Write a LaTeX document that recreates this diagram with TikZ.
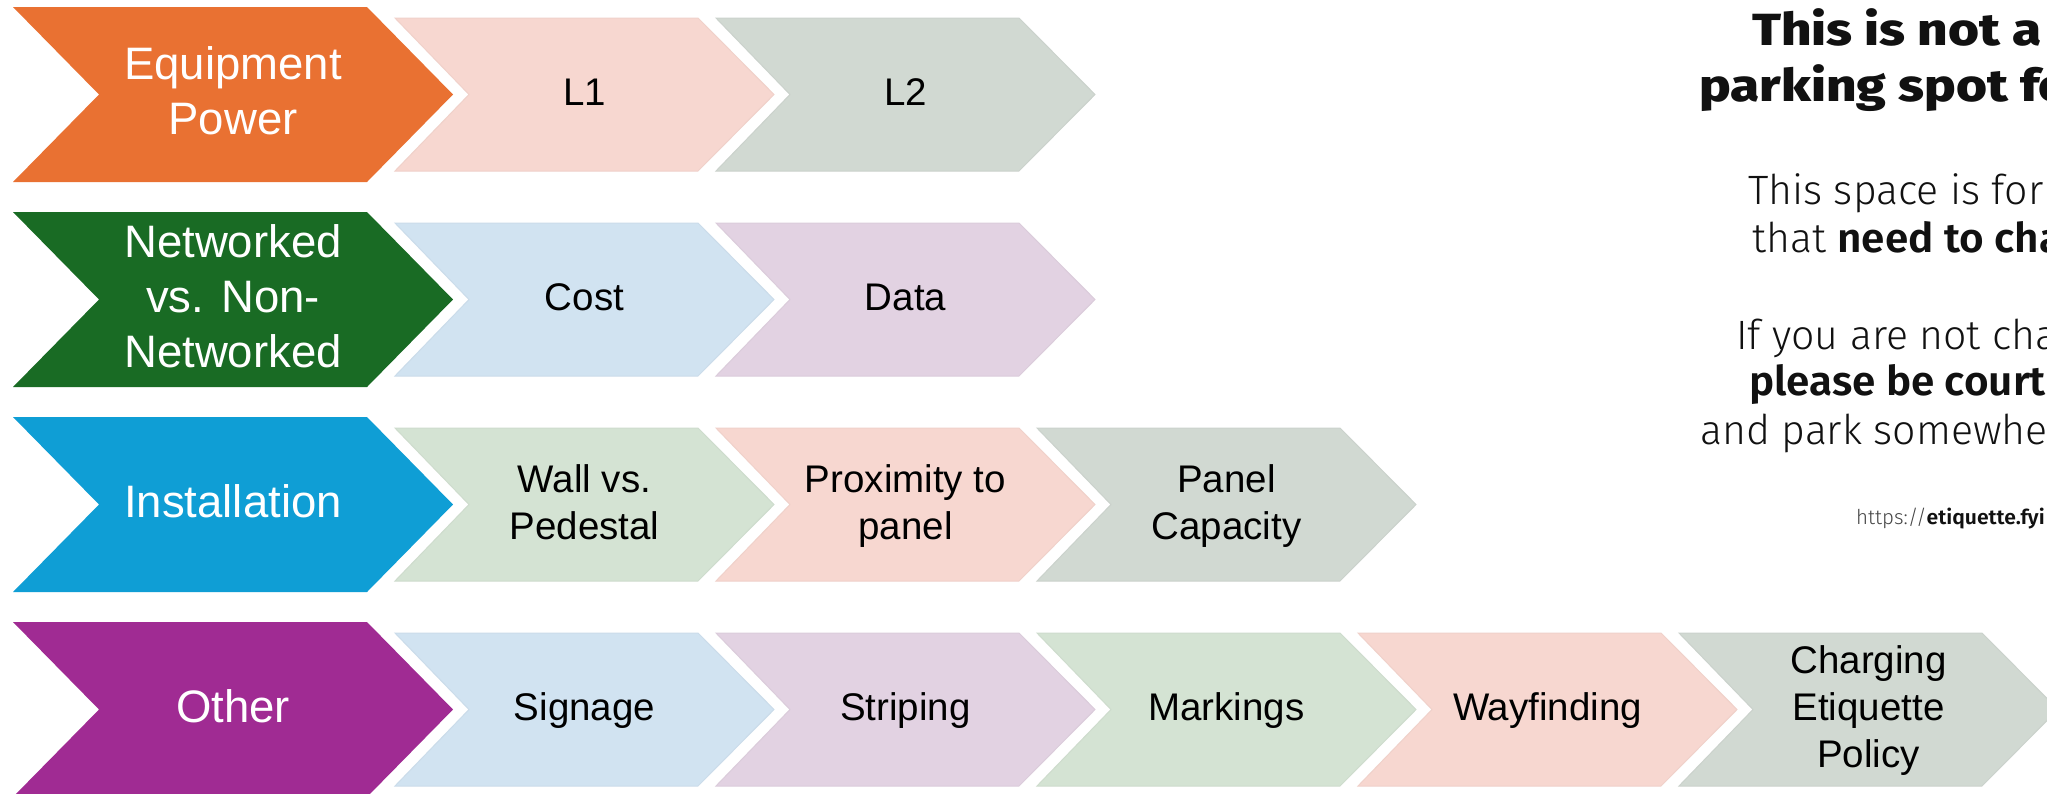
\documentclass[tikz,border=0pt]{standalone}
\usepackage{fontspec}
\setmainfont{Liberation Sans}
\newfontfamily\signlight{Fira Sans Light}
\newfontfamily\signsemi{Fira Sans SemiBold}[FakeStretch=1.03]
\newfontfamily\signheavy{Fira Sans ExtraBold}[FakeStretch=1.18]
\definecolor{cOrange}{HTML}{E97132}
\definecolor{cGreen}{HTML}{196B24}
\definecolor{cBlue}{HTML}{0F9ED5}
\definecolor{cPurple}{HTML}{A02B93}
\definecolor{lPink}{HTML}{F7D7D0}
\definecolor{lGrey}{HTML}{D1D9D2}
\definecolor{lBlue}{HTML}{D1E3F1}
\definecolor{lPurple}{HTML}{E2D2E2}
\definecolor{lGreen}{HTML}{D4E3D3}
\definecolor{signtext}{HTML}{111111}
\definecolor{urlgrey}{HTML}{444444}
\tikzset{
  mainlbl/.style={align=center, inner sep=0pt, text=white,
    font=\fontsize{45.5}{55}\selectfont},
  seclbl/.style={align=center, inner sep=0pt, text=black,
    font=\fontsize{38.5}{47}\selectfont},
  signline/.style={anchor=base west, inner sep=0pt, text=signtext},
}
\newcommand{\MainChev}[4]{%
  \pgfmathsetmacro{\chT}{7+205*#1}%
  \fill[#2] (13,\chT) -- ++(354,0) -- ++(86,87.5) -- ++(-86,87.5)
     -- ++(-354,0) -- ++(86,-87.5) -- cycle;
  \node[mainlbl] (#3) at (233,\chT+89) {\strut #4\strut};
}
\newcommand{\SecChev}[5]{%
  \pgfmathsetmacro{\chT}{18+205*#1}%
  \pgfmathsetmacro{\chX}{395+321*#2}%
  \filldraw[fill=#3, draw=#3!97!black, line width=1pt, line join=miter]
     (\chX,\chT) -- ++(303,0) -- ++(76,76.5) -- ++(-76,76.5)
     -- ++(-303,0) -- ++(74,-76.5) -- cycle;
  \node[seclbl] (#4) at (\chX+189.5,\chT+78.5) {\strut #5\strut};
}
\begin{document}
\begin{tikzpicture}[x=1pt,y=-1pt]
\useasboundingbox (0,0) rectangle (2047,793);
\fill[white] (0,0) rectangle (2047,793);
% row 0
\MainChev{0}{cOrange}{m0}{Equipment\\Power}
\SecChev{0}{0}{lPink}{s00}{L1}
\SecChev{0}{1}{lGrey}{s01}{L2}
% row 1
\MainChev{1}{cGreen}{m1}{Networked\\vs. Non-\\Networked}
\SecChev{1}{0}{lBlue}{s10}{Cost}
\SecChev{1}{1}{lPurple}{s11}{Data}
% row 2
\MainChev{2}{cBlue}{m2}{Installation}
\SecChev{2}{0}{lGreen}{s20}{Wall vs.\\Pedestal}
\SecChev{2}{1}{lPink}{s21}{Proximity to\\panel}
\SecChev{2}{2}{lGrey}{s22}{Panel\\Capacity}
% row 3
\MainChev{3}{cPurple}{m3}{Other}
\SecChev{3}{0}{lBlue}{s30}{Signage}
\SecChev{3}{1}{lPurple}{s31}{Striping}
\SecChev{3}{2}{lGreen}{s32}{Markings}
\SecChev{3}{3}{lPink}{s33}{Wayfinding}
\SecChev{3}{4}{lGrey}{s34}{Charging\\Etiquette\\Policy}
% sign text
\begin{scope}
\clip (0,0) rectangle (2047,793);
\node[signline, font=\signheavy\fontsize{45}{54}\selectfont] (t1) at (1752,45.5) {This is not a};
\node[signline, font=\signheavy\fontsize{45}{54}\selectfont] (t2) at (1699,101) {parking spot fo};
\node[signline, font=\signlight\fontsize{41}{50}\selectfont] (t3) at (1748,204) {This space is for};
\node[signline, font=\signlight\fontsize{41}{50}\selectfont] (t4) at (1752,252) {that {\signsemi need to cha}};
\node[signline, font=\signlight\fontsize{41}{50}\selectfont] (t5) at (1736,349) {If you are not cha};
\node[signline, font=\signsemi\fontsize{41}{50}\selectfont] (t6) at (1749,395) {please be court};
\node[signline, font=\signlight\fontsize{41}{50}\selectfont] (t7) at (1700,444) {and park somewhe};
\node[signline, font=\signlight\fontsize{20.5}{24}\selectfont, text=urlgrey] (t8) at (1856,524) {https://{\signsemi\color{signtext}etiquette.fyi}};
\end{scope}
\end{tikzpicture}
\end{document}
